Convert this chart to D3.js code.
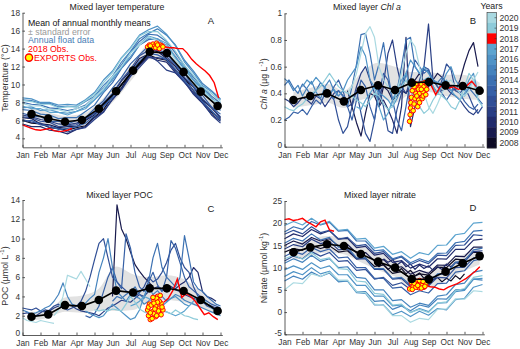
<!DOCTYPE html>
<html>
<head>
<meta charset="utf-8">
<script src="https://cdn.jsdelivr.net/npm/d3@7"></script>
<style>
  body { margin: 0; background: #fff; }
  svg { font-family: "Liberation Sans", Arial, sans-serif; }
</style>
</head>
<body>
<svg id="fig" width="520" height="349"></svg>
<script>
// ---- data ----
const monthLabels = ["Jan","Feb","Mar","Apr","May","Jun","Jul","Aug","Sep","Oct","Nov","Dec"];
const years = [2020,2019,2018,2017,2016,2015,2014,2013,2012,2011,2010,2009,2008];
const yearColors = ["#a9d9e1","#8dcbd9","#ff0000","#5ca4cf","#4f93c6","#4583bd","#3c71b2",
                    "#3660a6","#304f96","#293e84","#222c6c","#191b4e","#0d0b24"];

// x position (in month units, Jan = 1) of the monthly mean markers
const meanPos = [1.5,2.43,3.36,4.3,5.24,6.2,7.14,8.07,9.02,9.95,10.9,11.84];

const tempMean = [6.7,6.2,5.85,6.05,7.3,9.25,11.55,13.65,13.5,11.4,9.2,7.6];
const tempLo   = [5.9,5.5,5.2,5.4,6.6,8.4,10.7,12.8,12.7,10.6,8.5,6.9];
const tempHi   = [7.5,6.9,6.5,6.7,8.0,10.1,12.4,14.5,14.3,12.2,9.9,8.3];

const chlMean = [0.35,0.38,0.40,0.34,0.425,0.46,0.425,0.48,0.485,0.46,0.455,0.42];
const chlLo   = [0.29,0.31,0.33,0.29,0.35,0.37,0.33,0.40,0.41,0.38,0.36,0.35];
const chlHi   = [0.41,0.44,0.47,0.42,0.55,0.63,0.60,0.56,0.56,0.54,0.54,0.48];

const pocMean = [1.9,2.14,3.1,3.0,3.63,4.6,4.4,4.84,4.84,4.56,3.63,2.49];
const pocLo   = [1.5,1.8,2.4,2.3,2.6,2.5,2.6,3.5,3.6,3.4,2.8,2.0];
const pocHi   = [2.4,2.6,3.9,4.1,4.8,7.1,6.3,6.0,6.2,5.8,4.5,3.0];

const nitMean = [13.45,14.57,15.25,14.87,13.07,11.35,10.0,7.45,7.37,9.1,11.0,12.6];
const nitLo   = [11.6,12.7,13.4,13.0,11.2,9.4,8.0,5.6,5.5,7.2,9.1,10.7];
const nitHi   = [15.3,16.4,17.1,16.7,14.9,13.3,12.0,9.3,9.2,11.0,12.9,14.5];

// annual float records: start month t0, step dt (months), values
const tempFloats = [
  {year:2008, t0:1, dt:0.5, v:[6.0,5.7,5.6,5.2,5.1,4.9,5.2,5.4,6.4,7.2,8.7,9.6,11.3,12.2,13.3,12.9,12.7,11.6,10.7,9.3,8.2,6.9,6.1]},
  {year:2009, t0:1, dt:0.5, v:[6.3,6.2,5.6,5.5,5.2,5.3,5.3,6.0,6.6,7.9,8.9,10.4,11.5,12.9,13.4,13.7,12.9,12.0,10.7,9.7,8.3,7.4,6.3]},
  {year:2010, t0:1, dt:0.5, v:[5.6,5.3,5.3,4.9,4.8,4.5,5.0,5.3,6.3,7.0,8.3,9.5,11.1,12.1,13.1,12.7,12.5,11.3,10.3,8.9,7.9,6.7,5.9]},
  {year:2011, t0:1, dt:0.5, v:[6.1,5.8,5.7,5.2,5.1,4.7,5.0,5.2,6.1,6.9,8.4,9.4,10.9,11.9,13.0,13.0,12.8,11.4,10.5,9.0,8.0,6.6,5.7]},
  {year:2011, t0:1, dt:0.5, v:[6.6,6.4,6.1,5.9,5.6,5.5,5.7,6.1,6.8,7.6,8.8,10.0,11.2,12.4,13.3,12.6,11.6,11.3,10.2,9.1,8.0,7.0,6.2]},
  {year:2012, t0:1, dt:0.5, v:[6.4,6.3,5.9,5.8,5.3,5.4,5.5,6.2,6.8,8.0,9.0,10.5,11.7,13.2,13.8,13.8,13.1,12.2,10.8,9.8,8.4,7.5,6.4]},
  {year:2013, t0:1, dt:0.5, v:[6.8,6.5,6.4,5.9,5.9,5.6,6.0,6.3,7.3,8.2,9.6,10.8,12.3,13.3,14.3,13.9,13.5,12.2,11.2,9.8,8.8,7.5,6.7]},
  {year:2013, t0:1, dt:0.5, v:[5.9,6.0,5.5,5.4,5.0,5.1,5.3,5.7,6.5,7.5,8.6,9.9,11.4,12.6,13.5,13.3,12.8,11.7,10.4,9.4,8.1,7.1,6.0]},
  {year:2014, t0:1, dt:0.5, v:[7.2,7.1,6.7,6.6,6.2,6.3,6.3,7.0,7.7,9.1,10.2,11.8,12.9,14.4,15.0,15.1,14.2,13.1,11.6,10.5,9.1,8.2,7.1]},
  {year:2014, t0:1, dt:0.5, v:[8.0,7.8,7.7,7.4,7.3,7.1,7.3,7.7,8.6,9.6,10.9,12.2,13.6,14.8,15.6,15.5,14.8,13.5,12.1,10.8,9.7,8.7,7.9]},
  {year:2015, t0:1, dt:0.5, v:[8.3,8.2,7.9,7.9,7.5,7.6,7.5,8.1,8.7,9.9,10.9,12.5,13.7,15.1,15.7,16.2,15.5,14.4,12.7,11.5,10.1,9.3,8.4]},
  {year:2016, t0:1, dt:0.5, v:[8.5,8.4,8.0,8.0,7.7,7.8,7.7,8.3,9.1,10.5,11.5,13.0,14.1,15.5,16.1,16.5,15.6,14.3,12.5,11.3,9.9,9.2,8.3]},
  {year:2016, t0:1, dt:0.5, v:[7.4,7.5,7.1,7.2,6.9,6.8,7.0,7.5,8.3,9.4,10.5,11.9,13.1,14.4,15.2,14.9,14.4,13.0,11.9,10.5,9.4,8.5,7.5]},
  {year:2017, t0:1, dt:0.5, v:[7.6,7.3,7.3,6.9,6.9,6.6,7.0,7.3,8.3,9.2,10.7,11.9,13.5,14.5,15.4,15.1,14.6,13.0,11.9,10.5,9.6,8.4,7.8]},
  {year:2019, t0:1, dt:0.5, v:[8.2,8.1,7.8,7.8,7.4,7.5,7.5,8.2,8.9,10.2,11.3,12.9,14.0,15.4,15.9,15.9,14.9,13.7,12.1,11.0,9.7,9.0,8.1]},
  {year:2020, t0:1, dt:0.5, v:[7.9,7.6,7.6,7.2,7.2,6.9,7.3,7.6,8.6,9.5,10.9,12.0,13.5,14.4,15.3,14.9,14.3,12.7,11.6,10.2,9.4,8.3,7.9]}
];

const chlFloats = [
  {year:2009, t0:4.5, dt:0.25, v:[0.42,0.3,0.18,0.08,0.25,0.4,0.38,0.3,0.45,0.42,0.35,0.38,0.42,0.4,0.45,0.5,0.55,0.48,0.45,0.5,0.55,0.52,0.48,0.45,0.42,0.5,0.62,0.72,0.78,0.6]},
  {year:2010, t0:6.25, dt:0.25, v:[0.3,0.35,0.28,0.2,0.1,0.3,0.82,0.15,0.3,0.38,0.4,0.45]},
  {year:2011, t0:1, dt:0.25, v:[0.36,0.34,0.3,0.33,0.37,0.35,0.32,0.38,0.36,0.3,0.35,0.4,0.42,0.38,0.3,0.32,0.45,0.55,0.6,0.5,0.4,0.35,0.48,0.7,0.8,0.6,0.45,0.4,0.5,0.45,0.42,0.6,0.92,0.5,0.45,0.42,0.44,0.4,0.38,0.35,0.3,0.26,0.24,0.28]},
  {year:2012, t0:3.5, dt:0.25, v:[0.4,0.35,0.2,0.1,0.15,0.3,0.42,0.25,0.1,0.04,0.2,0.45,0.3,0.12,0.1,0.28,0.4,0.55,0.45,0.35,0.5,0.6,0.58,0.45,0.4,0.5,0.62,0.58,0.42,0.4,0.45,0.38,0.3,0.25,0.3]},
  {year:2013, t0:1, dt:0.25, v:[0.2,0.22,0.26,0.25,0.28,0.24,0.3,0.35,0.32,0.4,0.38,0.45,0.5,0.42,0.3,0.2,0.35,0.5,0.45,0.3,0.2,0.4,0.55,0.5,0.35,0.2,0.12,0.3,0.5,0.65,0.6,0.55,0.58,0.5,0.45,0.4,0.35,0.4,0.45,0.4,0.34,0.3,0.28,0.32]},
  {year:2014, t0:1, dt:0.25, v:[0.46,0.5,0.44,0.4,0.47,0.43,0.38,0.42,0.48,0.44,0.4,0.36,0.42,0.38,0.3,0.45,0.62,0.84,0.85,0.7,0.5,0.62,0.78,0.55,0.35,0.42,0.6,0.8,0.82,0.6,0.55,0.58,0.56,0.5,0.48,0.52,0.46,0.42,0.45,0.4,0.38,0.44,0.4,0.36,0.32]},
  {year:2015, t0:1, dt:0.25, v:[0.51,0.48,0.42,0.46,0.38,0.44,0.49,0.41,0.36,0.45,0.5,0.42,0.38]},
  {year:2016, t0:2, dt:0.25, v:[0.45,0.5,0.47,0.52,0.48,0.44,0.4,0.43,0.38,0.42,0.5,0.55,0.6,0.75,0.68,0.5,0.45,0.4,0.38,0.35,0.3,0.36,0.45,0.55,0.65,0.6,0.55,0.6,0.55,0.5,0.48,0.47,0.55,0.6,0.5,0.45,0.42,0.5,0.55,0.4]},
  {year:2017, t0:5, dt:0.25, v:[0.3,0.28,0.35,0.4,0.45,0.3,0.2,0.25,0.35,0.42,0.5,0.55,0.45,0.35,0.4,0.5,0.52,0.45,0.4,0.45,0.5,0.42,0.38,0.35,0.4,0.45,0.5,0.38]},
  {year:2019, t0:1, dt:0.25, v:[0.3,0.28,0.27,0.3,0.32,0.36,0.4,0.42,0.45,0.5,0.55,0.5,0.45,0.42,0.4,0.38,0.35,0.33,0.3,0.35,0.4,0.38,0.32,0.28,0.3,0.4,0.45,0.5,0.42,0.35,0.3,0.25,0.28,0.35,0.4,0.38,0.35,0.3,0.28,0.35,0.45,0.55,0.5,0.35,0.3]},
  {year:2020, t0:4.5, dt:0.25, v:[0.4,0.45,0.55,0.7,0.85,0.9,0.82,0.6,0.5,0.45,0.4,0.42,0.55,0.7,0.8,0.75,0.6,0.4,0.3,0.25,0.32,0.4,0.48,0.5,0.45,0.4,0.38,0.42,0.5,0.56]}
];

const pocFloats = [
  {year:2009, t0:6.0, dt:0.25, v:[4.0,13.5,11.0,10.0,8.6,7.3,6.6,6.0,5.5,5.0]},
  {year:2010, t0:8.5, dt:0.25, v:[5.0,4.8,5.2,5.0,4.8,5.2,5.5,6.0,7.0,6.5,4.5,4.0,3.8,3.5]},
  {year:2011, t0:1, dt:0.25, v:[2.2,2.3,2.1,2.0,2.3,2.6,2.5,2.8,3.0,2.8,3.2,3.0,2.7,2.5,2.4,2.3,2.2,2.0,2.4,2.8,3.0,3.3,3.6,3.5,3.4,3.8,4.2,4.0,4.5,4.8,5.0,4.6,4.8,5.0,4.7,4.5,4.2,4.0,3.8,3.6,3.4,3.2,3.0,2.8,2.6]},
  {year:2012, t0:1, dt:0.25, v:[2.8,2.7,2.6,2.8,2.5,2.4,2.6,3.0,3.2,2.8,2.6,2.8,3.0,3.5,4.5,6.0,7.8,9.5,10.0,8.0,6.0,5.5,5.0,4.6,4.3,4.0,4.4,5.0,6.0,5.5,5.8,6.5,7.5,8.8,9.5,8.0,7.0,6.5,5.0,4.0,3.5,3.0,2.8,2.6,2.5]},
  {year:2013, t0:4.5, dt:0.25, v:[2.0,1.8,2.2,3.0,4.5,6.0,7.0,5.5,4.8,10.5,9.0,6.5,5.0,4.5,5.5,6.5,5.2,4.5,6.0,9.8,9.0,7.5,6.0,5.0,4.6,4.2,3.8,3.5,3.2,3.0,2.8]},
  {year:2014, t0:6, dt:0.25, v:[3.5,4.0,3.8,4.2,4.5,5.0,4.2,3.8,5.5,8.0,9.5,7.0,6.0,5.5,5.0,6.0,10.3,8.0,5.5,4.8,4.5,4.0,3.6,3.2,3.0]},
  {year:2015, t0:1, dt:0.25, v:[2.6,2.4,2.2,2.3,2.5,2.8,3.0,3.5,4.2,5.4,4.0,3.2,3.0,2.8,3.3,3.8,4.2,6.5,8.0,10.0,7.0,4.5,4.0,3.5,4.2,4.0,3.8,3.2,3.5,4.2,4.6,4.0,3.5,3.8,4.2,4.0,3.6,3.4,3.2,3.0,2.8,2.6,2.4,2.2,2.0]},
  {year:2016, t0:4.5, dt:0.25, v:[2.5,2.2,2.0,1.8,2.0,2.6,3.2,2.8,2.4,2.0,1.6,1.8,2.6,4.0,5.0,4.2,3.5,3.0,3.4,3.8,4.0,3.6,3.2,3.0]},
  {year:2017, t0:7, dt:0.25, v:[3.0,3.2,3.5,4.0,3.8,3.4,3.0,2.6,2.4,2.2,2.0,2.2,2.5,3.0,3.5,4.0,3.8,3.2,2.8,2.5,2.2]},
  {year:2019, t0:5, dt:0.25, v:[2.6,2.5,2.6,2.5,2.7,2.6,2.5,3.2,4.0,3.4,2.7,2.4,2.2,2.5,2.8,2.5,2.4,2.2,2.6,2.3,2.0,1.9,1.7,1.6]},
  {year:2020, t0:1, dt:0.25, v:[1.8,1.5,1.4,1.3,1.5,1.4,1.3,1.2]},
  {year:2020, t0:2.75, dt:0.25, v:[2.0,2.6,4.0,6.2,6.0,5.8,6.6,5.8,5.0]}
];

const nitFloats = [
  {year:2008, t0:1, dt:0.5, v:[13.5,14.3,13.9,15.0,14.3,14.9,13.5,13.8,12.0,12.2,10.3,10.6,8.7,9.1,7.6,8.6,8.3,10.1,10.0,11.9,11.7,13.5,13.4]},
  {year:2008, t0:6, dt:0.25, v:[11.0,10.2,10.8,9.6,10.4,9.0,9.8,8.6,9.4,8.2,8.8,7.6,8.4,7.2,7.8,6.8,7.6,7.0,8.2,7.4,8.6]},
  {year:2009, t0:1, dt:0.5, v:[15.0,16.0,15.3,16.8,16.0,16.5,14.9,15.2,13.3,13.4,11.5,11.8,9.9,10.2,8.5,9.4,8.7,10.6,10.5,12.6,12.5,14.6,14.6]},
  {year:2010, t0:1, dt:0.5, v:[16.5,17.6,17.0,18.6,17.6,18.3,16.4,16.6,14.5,14.8,12.8,13.2,11.2,11.6,9.9,10.8,10.1,12.0,11.9,14.1,14.1,16.2,16.4]},
  {year:2010, t0:6.5, dt:0.25, v:[12.0,11.2,11.8,10.6,11.4,10.2,10.8,9.6,10.6,9.8,10.4,9.4,10.2,9.6,10.8,10.2,11.2,10.8,12.0]},
  {year:2011, t0:1, dt:0.5, v:[14.2,15.2,14.7,16.4,15.4,15.9,14.0,14.2,11.9,12.0,9.6,9.6,7.4,7.6,5.7,6.6,6.1,8.4,8.7,11.2,11.3,13.6,13.8]},
  {year:2012, t0:1, dt:0.5, v:[17.5,18.4,17.6,19.2,17.9,18.4,16.4,16.8,14.9,15.2,13.2,13.6,11.8,12.4,10.7,11.6,10.9,12.8,12.7,15.0,15.1,17.4,17.2]},
  {year:2012, t0:1, dt:0.5, v:[11.5,12.6,12.0,13.6,12.6,13.4,11.4,11.6,9.4,9.6,7.4,7.8,6.0,6.6,5.1,6.4,5.9,7.8,7.7,10.0,10.1,12.2,12.4]},
  {year:2013, t0:1, dt:0.5, v:[12.5,13.6,13.0,14.6,13.6,14.2,12.2,12.4,10.0,10.0,7.6,7.6,5.4,5.6,3.9,4.8,4.3,6.4,6.5,9.0,9.3,11.6,12.0]},
  {year:2014, t0:1, dt:0.5, v:[18.0,19.2,18.6,20.4,19.6,20.2,18.2,18.4,16.0,16.0,13.8,14.0,12.0,12.6,11.1,12.0,11.3,13.2,13.3,15.6,15.9,18.2,18.4]},
  {year:2014, t0:1, dt:0.5, v:[15.5,16.6,16.0,17.6,16.2,16.8,14.6,14.6,12.2,12.2,9.8,9.8,7.6,7.8,6.1,7.0,6.5,8.6,8.7,11.2,11.5,14.0,14.4]},
  {year:2015, t0:1, dt:0.5, v:[11.0,12.0,11.2,12.8,11.4,12.0,10.0,10.2,7.8,7.6,5.0,5.0,2.6,2.8,1.1,2.0,1.5,3.6,3.9,6.2,6.5,9.0,9.4]},
  {year:2015, t0:1, dt:0.5, v:[7.0,8.1,7.4,9.0,8.0,8.8,6.8,7.0,4.6,4.6,2.4,2.6,0.6,1.4,0.3,1.6,1.1,3.0,2.9,5.0,5.1,7.4,7.2]},
  {year:2016, t0:1, dt:0.5, v:[9.5,10.4,9.6,11.1,9.8,10.4,8.4,8.4,6.0,6.0,3.6,3.6,1.4,1.6,-0.1,0.8,0.1,2.0,2.1,4.6,4.9,7.4,7.6]},
  {year:2016, t0:1, dt:0.5, v:[8.0,9.1,8.4,10.0,8.6,9.2,7.0,7.0,4.4,4.2,1.6,1.6,-0.6,0.2,-1.0,0.2,-0.7,0.8,0.5,2.8,3.1,5.6,6.2]},
  {year:2017, t0:1, dt:0.5, v:[19.5,20.4,19.6,21.1,19.7,20.4,18.4,18.6,16.4,16.6,14.4,14.8,13.0,13.6,12.1,13.4,12.9,15.0,15.1,17.4,17.7,20.0,20.2]},
  {year:2019, t0:1, dt:0.5, v:[12.0,12.8,11.9,13.4,11.8,12.2,9.8,9.6,7.0,6.8,4.2,4.0,1.6,1.8,-0.1,0.6,-0.1,2.0,2.3,4.8,5.3,7.8,8.2]},
  {year:2020, t0:1, dt:0.5, v:[5.0,6.6,6.4,8.6,8.0,9.0,7.2,7.2,4.6,4.4,1.8,1.6,-0.8,-0.8,-2.3,-1.4,-1.7,0.6,0.7,3.0,2.9,4.8,4.6]}
];

// 2018 float (red) segments
const temp2018 = [
  {t0:1, dt:0.25, v:[5.5,5.3,5.1,4.95,4.9,5.0,5.1,4.85,4.75,4.8,4.9,5.1]},
  {t0:7.9, dt:0.25, v:[14.2,14.3,14.3,14.2,14.2,14.1,14.1,14.0,14.0,13.5,12.8,12.3,11.9,11.5,11.0,10.2,8.5]}
];
const chl2018 = [
  {t0:7.9, dt:0.25, v:[0.48,0.49,0.48,0.47,0.48,0.46,0.39,0.45,0.47,0.44,0.45,0.43,0.44,0.46,0.49,0.45]}
];
const poc2018 = [
  {t0:8.85, dt:0.25, v:[3.4,3.8,4.6,5.8,3.9,4.3,4.0,3.5,2.8,2.1,2.3,1.9,1.6]}
];
const nit2018 = [
  {t0:1, dt:0.25, v:[20.8,21.0,20.6,20.8,21.1,20.3,19.8,19.2,20.3,20.7,18.5,18.2]},
  {t0:7.85, dt:0.25, v:[5.4,6.0,5.8,6.2,6.0,5.7,5.6,5.2,5.0,5.6,6.0,6.4,7.0,7.6,8.4,9.2,10.2]}
];

// EXPORTS ship observations
const tempExpT = [7.95,8.05,8.15,8.25,8.35,8.45,8.55,8.65,8.75,8.2,8.4,8.6,8.1,8.5,8.8];
const tempExpV = [14.2,14.4,14.1,14.5,14.3,14.6,14.2,14.4,14.3,14.0,14.1,14.0,14.3,14.4,14.2];
const chlExpT = [7.95,7.98,8.0,8.02,8.05,8.15,8.2,8.25,8.3,8.35,8.4,8.45,8.5,8.55,8.6,8.65,8.7,8.75,8.8,8.9,8.1,8.3,8.5,8.7,8.9,8.2,8.45,8.85,8.6,8.35];
const chlExpV = [0.19,0.24,0.29,0.33,0.37,0.27,0.32,0.36,0.40,0.44,0.30,0.35,0.40,0.45,0.47,0.36,0.41,0.45,0.48,0.43,0.42,0.47,0.33,0.38,0.47,0.45,0.43,0.39,0.43,0.38];
const pocExpT = [7.95,8.0,8.05,8.1,8.2,8.3,8.4,8.5,8.6,8.7,8.8,8.0,8.15,8.3,8.45,8.6,8.75,8.1,8.25,8.4,8.55,8.7,8.2,8.35,8.5,8.65,8.3,8.45];
const pocExpV = [2.6,2.0,3.2,1.6,2.4,3.6,1.9,4.0,2.8,3.3,2.6,2.9,3.1,2.2,3.8,3.5,2.9,2.3,3.9,3.0,2.5,2.1,1.7,2.7,3.4,4.1,3.3,2.0];
const nitExpT = [7.95,8.05,8.15,8.25,8.35,8.45,8.55,8.65,8.75,8.85,8.1,8.3,8.5,8.7,8.2,8.4,8.6,8.8];
const nitExpV = [5.2,6.6,5.8,7.0,6.2,5.5,6.8,6.0,5.6,6.4,5.1,5.6,7.1,6.9,6.5,6.0,5.4,5.8];

const tempTicks = [4,6,8,10,12,14,16,18];
const chlTicks = [0,0.2,0.4,0.6,0.8,1];
const pocTicks = [0,2,4,6,8,10,12,14];
const nitTicks = [-5,0,5,10,15,20,25];

// ---- drawing ----
const svg = d3.select("#fig");
const pxPerMonth = 18;
const axisColor = "#333";
const colorOf = d3.scaleOrdinal().domain(years).range(yearColors);

function drawPanel(p) {
  const x = d3.scaleLinear().domain([1, 12.1]).range([p.left, p.left + 11.1 * pxPerMonth]);
  const y = d3.scaleLinear().domain(p.yDomain).range([p.bottom, p.top]);
  const g = svg.append("g");

  // standard error band
  const band = meanPos.map((t, i) => ({t: t, lo: p.lo[i], hi: p.hi[i]}));
  g.append("path").datum(band)
    .attr("d", d3.area().x(d => x(d.t)).y0(d => y(d.lo)).y1(d => y(d.hi)).curve(d3.curveMonotoneX))
    .attr("fill", "#e2e2e2");

  const line = d3.line().x(d => x(d[0])).y(d => y(d[1]));
  const toPts = s => s.v.map((v, i) => [s.t0 + i * s.dt, v]);

  // annual floats
  g.selectAll(".float")
    .data(p.floats.slice().sort((a, b) => a.year - b.year))
    .enter().append("path")
      .attr("d", s => line(toPts(s)))
      .attr("fill", "none")
      .attr("stroke", s => colorOf(s.year))
      .attr("stroke-width", 1.2)
      .attr("stroke-linejoin", "round");

  // 2018 float
  g.selectAll(".red")
    .data(p.red)
    .enter().append("path")
      .attr("d", s => line(toPts(s)))
      .attr("fill", "none")
      .attr("stroke", "#ff0000")
      .attr("stroke-width", 1.4);

  // EXPORTS obs
  g.selectAll(".exp")
    .data(p.expT.map((t, i) => [t, p.expV[i]]))
    .enter().append("circle")
      .attr("cx", d => x(d[0]))
      .attr("cy", d => y(d[1]))
      .attr("r", 2.3)
      .attr("fill", "#ffff00")
      .attr("stroke", "#ff0000")
      .attr("stroke-width", 1);

  // mean of annual monthly means
  const meanPts = meanPos.map((t, i) => [t, p.mean[i]]);
  g.append("path").datum(meanPts)
    .attr("d", line)
    .attr("fill", "none")
    .attr("stroke", "#000")
    .attr("stroke-width", 1.6);
  g.selectAll(".dot")
    .data(meanPts)
    .enter().append("circle")
      .attr("cx", d => x(d[0]))
      .attr("cy", d => y(d[1]))
      .attr("r", 4.3)
      .attr("fill", "#000");

  // axes
  const ax = g.append("g")
    .attr("transform", "translate(0," + p.bottom + ")")
    .call(d3.axisBottom(x)
      .tickValues(d3.range(1, 13))
      .tickFormat((d, i) => monthLabels[i])
      .tickSizeInner(-2.5).tickSizeOuter(0).tickPadding(5));
  const ay = g.append("g")
    .attr("transform", "translate(" + p.left + ",0)")
    .call(d3.axisLeft(y)
      .tickValues(p.ticks)
      .tickFormat(d => String(d))
      .tickSizeInner(-2.5).tickSizeOuter(0).tickPadding(2.5));
  [ax, ay].forEach(a => {
    a.attr("font-family", null).attr("font-size", 8.3);
    a.selectAll("text").attr("fill", axisColor);
    a.selectAll("path, line").attr("stroke", axisColor).attr("stroke-width", 0.8);
  });
  // lowest y label sits a touch higher, as in the source figure
  ay.selectAll(".tick").filter((d, i) => i === 0).select("text").attr("dy", "0.1em");

  // title, letter, y label
  const title = g.append("text")
    .attr("x", p.titleX).attr("y", p.titleY)
    .attr("text-anchor", "middle").attr("font-size", 8.8).attr("fill", "#222");
  p.title.forEach(part => title.append("tspan").attr("font-style", part.italic ? "italic" : null).text(part.text));

  g.append("text")
    .attr("x", p.letterX).attr("y", p.letterY)
    .attr("text-anchor", "middle").attr("font-size", 9.5).attr("fill", "#222")
    .text(p.letter);

  const yl = g.append("text")
    .attr("transform", "translate(" + p.ylabX + "," + p.ylabY + ") rotate(-90)")
    .attr("text-anchor", "middle").attr("font-size", 8.8).attr("fill", axisColor);
  p.ylabel.forEach(part => {
    const ts = yl.append("tspan").text(part.text);
    if (part.italic) ts.attr("font-style", "italic");
    if (part.sup) ts.attr("font-size", 6).attr("dy", -3.2);
    if (part.after) ts.attr("dy", 3.2);
  });
}

const unitSup = u => [{text: " (µmol " + u}, {text: "-1", sup: true}, {text: ")", after: true}];

drawPanel({
  left: 22.5, top: 12.7, bottom: 147.3, yDomain: [3, 18], ticks: tempTicks,
  mean: tempMean, lo: tempLo, hi: tempHi, floats: tempFloats, red: temp2018,
  expT: tempExpT, expV: tempExpV,
  title: [{text: "Mixed layer temperature"}], titleX: 117, titleY: 10,
  letter: "A", letterX: 211, letterY: 23.5,
  ylabel: [{text: "Temperature (°C)"}], ylabX: 7.5, ylabY: 78
});
drawPanel({
  left: 284.5, top: 13.3, bottom: 146.7, yDomain: [0, 1], ticks: chlTicks,
  mean: chlMean, lo: chlLo, hi: chlHi, floats: chlFloats, red: chl2018,
  expT: chlExpT, expV: chlExpV,
  title: [{text: "Mixed layer "}, {text: "Chl a", italic: true}], titleX: 367, titleY: 10,
  letter: "B", letterX: 473, letterY: 23.5,
  ylabel: [{text: "Chl a", italic: true}, {text: " (µg L"}, {text: "-1", sup: true}, {text: ")", after: true}],
  ylabX: 266.5, ylabY: 84
});
drawPanel({
  left: 22.5, top: 200, bottom: 335, yDomain: [0, 14], ticks: pocTicks,
  mean: pocMean, lo: pocLo, hi: pocHi, floats: pocFloats, red: poc2018,
  expT: pocExpT, expV: pocExpV,
  title: [{text: "Mixed layer POC"}], titleX: 119.5, titleY: 198,
  letter: "C", letterX: 211, letterY: 212,
  ylabel: [{text: "POC"}].concat(unitSup("L")), ylabX: 7.5, ylabY: 276
});
drawPanel({
  left: 284.5, top: 201, bottom: 334.3, yDomain: [-5, 25], ticks: nitTicks,
  mean: nitMean, lo: nitLo, hi: nitHi, floats: nitFloats, red: nit2018,
  expT: nitExpT, expV: nitExpV,
  title: [{text: "Mixed layer nitrate"}], titleX: 380, titleY: 198,
  letter: "D", letterX: 473, letterY: 211,
  ylabel: [{text: "Nitrate"}].concat(unitSup("kg")), ylabX: 266.5, ylabY: 268
});

// legend in panel A
const leg = svg.append("g").attr("font-size", 8.8);
const legItems = [
  {text: "Mean of annual monthly means", color: "#111", x: 28},
  {text: "± standard error", color: "#9a9a9a", x: 28},
  {text: "Annual float data", color: "#4a7db5", x: 28},
  {text: "2018 Obs.", color: "#ff0000", x: 28},
  {text: "EXPORTS Obs.", color: "#ff0000", x: 34}
];
leg.selectAll("text").data(legItems).enter().append("text")
  .attr("x", d => d.x).attr("y", (d, i) => 25.8 + i * 8.75)
  .attr("fill", d => d.color).text(d => d.text);
leg.append("circle").attr("cx", 29).attr("cy", 57.6).attr("r", 3.6)
  .attr("fill", "#ffff00").attr("stroke", "#ff0000").attr("stroke-width", 1.4);

// colorbar
const cbTop = 12.5, cbBottom = 148, cbLeft = 487, cbWidth = 9.5;
const cb = d3.scaleBand().domain(years).range([cbTop, cbBottom]);
const cbg = svg.append("g");
cbg.selectAll("rect").data(years).enter().append("rect")
  .attr("x", cbLeft).attr("y", d => cb(d))
  .attr("width", cbWidth).attr("height", cb.bandwidth() + 0.3)
  .attr("fill", d => colorOf(d));
cbg.append("rect").attr("x", cbLeft).attr("y", cbTop).attr("width", cbWidth)
  .attr("height", cbBottom - cbTop).attr("fill", "none").attr("stroke", axisColor).attr("stroke-width", 0.6);
cbg.selectAll("line").data(years).enter().append("line")
  .attr("x1", cbLeft + cbWidth - 2).attr("x2", cbLeft + cbWidth)
  .attr("y1", d => cb(d) + cb.bandwidth() / 2).attr("y2", d => cb(d) + cb.bandwidth() / 2)
  .attr("stroke", axisColor).attr("stroke-width", 0.6);
cbg.selectAll("text.lab").data(years).enter().append("text")
  .attr("x", cbLeft + cbWidth + 3).attr("y", d => cb(d) + cb.bandwidth() / 2 + 3)
  .attr("font-size", 8.6).attr("fill", axisColor).text(d => d);
cbg.append("text").attr("x", 491.5).attr("y", 8.5).attr("text-anchor", "middle")
  .attr("font-size", 8.8).attr("fill", "#222").text("Years");
</script>
</body>
</html>
